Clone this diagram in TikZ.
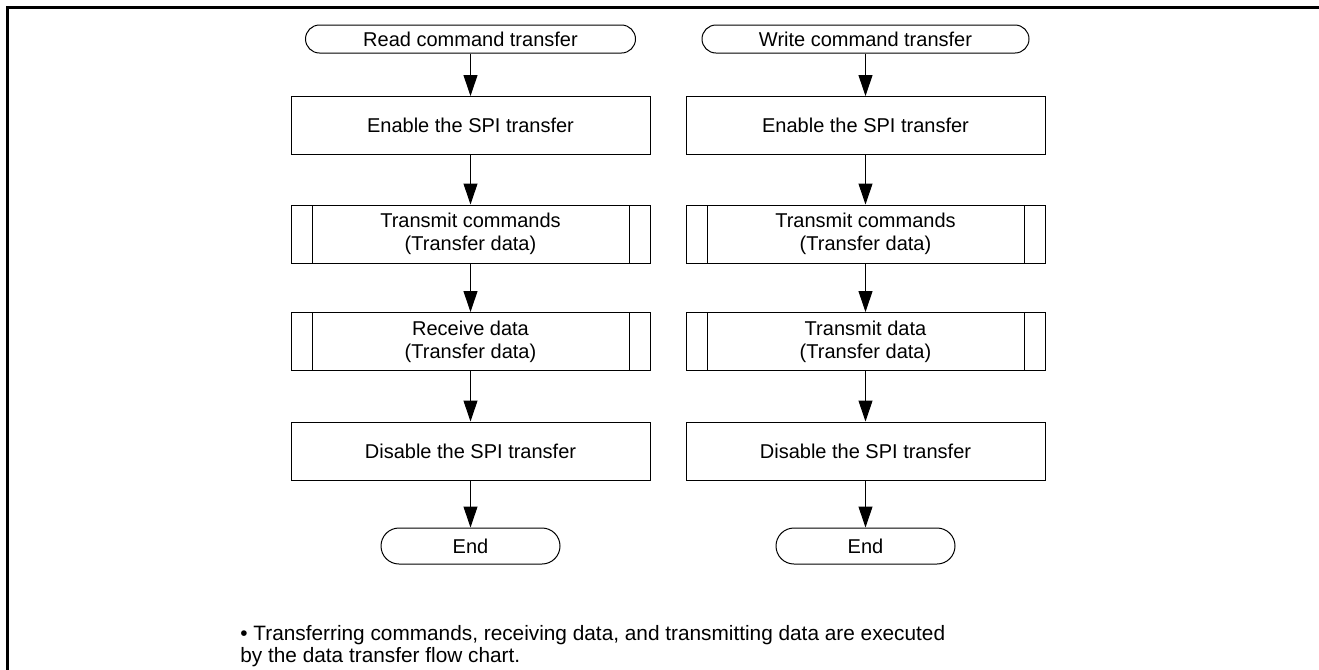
\documentclass[tikz,border=0pt]{standalone}
\usepackage{fontspec}
\setmainfont{Liberation Sans}
\usetikzlibrary{arrows.meta}
\begin{document}
\begin{tikzpicture}[x=0.5pt,y=-0.5pt,
  every node/.style={font=\fontsize{10}{11.5}\selectfont},
  proc/.style={draw, line width=0.5pt, minimum width=179.5pt, minimum height=29pt, inner sep=0pt, align=center},
  pproc/.style={proc, path picture={\draw[line width=0.5pt]
      ([xshift=10.5pt]path picture bounding box.north west) -- ([xshift=10.5pt]path picture bounding box.south west)
      ([xshift=-10.5pt]path picture bounding box.north east) -- ([xshift=-10.5pt]path picture bounding box.south east);}},
  term/.style={draw, line width=0.5pt, rounded corners=7pt, minimum height=14pt, inner sep=0pt},
  endterm/.style={draw, line width=0.5pt, rounded corners=9pt, minimum height=18pt, minimum width=89.5pt, inner sep=0pt},
  flow/.style={line width=0.5pt, -{Triangle[length=10.5pt,width=7pt]}},
  frame/.style={line width=1.3pt, line join=miter},
  note/.style={anchor=north west, align=left, inner sep=0pt, font=\fontsize{10.4}{10.8}\selectfont},
]
\useasboundingbox (0,0) rectangle (1319,670);
\draw[frame] (7.5,690) -- (7.5,7.5) -- (1340,7.5);

% left column
\node[term, minimum width=165pt] (rs) at (470.5,39) {Read command transfer};
\node[proc] (re) at (470.5,125.5) {Enable the SPI transfer};
\node[pproc] (rt) at (470.5,234) {Transmit commands\\(Transfer data)};
\node[pproc] (rr) at (470.5,341.5) {Receive data\\(Transfer data)};
\node[proc] (rd) at (470.5,451) {Disable the SPI transfer};
\node[endterm] (rend) at (470.5,546) {End};

% right column
\node[term, minimum width=163.5pt] (ws) at (865.5,39) {Write command transfer};
\node[proc] (we) at (865.5,125.5) {Enable the SPI transfer};
\node[pproc] (wt) at (865.5,234) {Transmit commands\\(Transfer data)};
\node[pproc] (wr) at (865.5,341.5) {Transmit data\\(Transfer data)};
\node[proc] (wd) at (865.5,451) {Disable the SPI transfer};
\node[endterm] (wend) at (865.5,546) {End};

\draw[flow] (rs) -- (re);
\draw[flow] (re) -- (rt);
\draw[flow] (rt) -- (rr);
\draw[flow] (rr) -- (rd);
\draw[flow] (rd) -- (rend);

\draw[flow] (ws) -- (we);
\draw[flow] (we) -- (wt);
\draw[flow] (wt) -- (wr);
\draw[flow] (wr) -- (wd);
\draw[flow] (wd) -- (wend);

\node[note] (nt) at (240,625) {• Transferring commands, receiving data, and transmitting data are executed\\by the data transfer flow chart.};
\end{tikzpicture}
\end{document}
